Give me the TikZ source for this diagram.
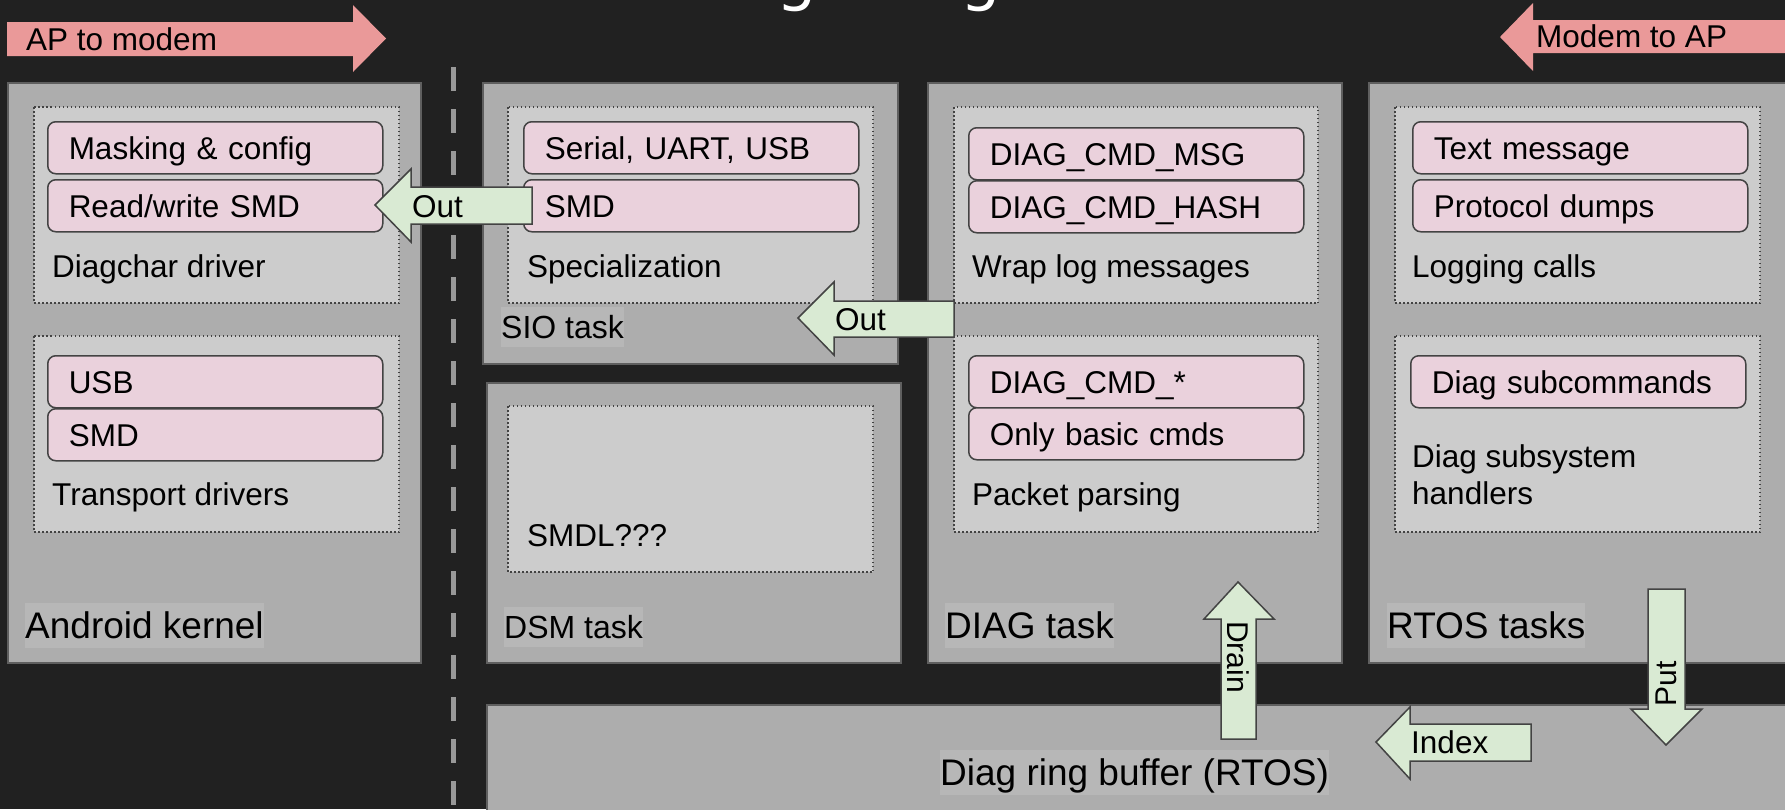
\documentclass[tikz,border=0pt]{standalone}
\usepackage{fontspec}
\setmainfont{Liberation Sans}
\newfontfamily\titlefont{DejaVu Sans}
\newcommand\fsmall{\fontsize{31.5}{37}\selectfont}
\newcommand\fmid{\fontsize{32}{38}\selectfont}
\newcommand\fbig{\fontsize{37}{44}\selectfont}
\definecolor{bgdark}{HTML}{212121}
\definecolor{taskgray}{HTML}{ADADAD}
\definecolor{taskedge}{HTML}{5F5F5F}
\definecolor{innergray}{HTML}{CCCCCC}
\definecolor{lblgray}{HTML}{B7B7B7}
\definecolor{pinkfill}{HTML}{EAD1DC}
\definecolor{edgegray}{HTML}{434343}
\definecolor{greenfill}{HTML}{D9EAD3}
\definecolor{salmon}{HTML}{EA9999}
\definecolor{divider}{HTML}{999999}
\tikzset{
  taskbox/.style={fill=taskgray, draw=taskedge, line width=1.5pt},
  dotbox/.style={fill=innergray, draw=edgegray, line width=1.5pt, dash pattern=on 1.5pt off 2.5pt},
  pinkbox/.style={fill=pinkfill, draw=edgegray, line width=1.5pt, rounded corners=8pt,
    anchor=north west, minimum height=#1, text width=293pt, align=left,
    inner xsep=21pt, inner ysep=0pt, text height=22.5pt, text depth=0pt, font=\fsmall},
  pinkbox/.default=52pt,
  boxlabel/.style={anchor=base west, inner sep=0pt, font=\fsmall},
  tasklabel/.style={anchor=base west, fill=lblgray, inner xsep=0pt, inner ysep=2pt,
    text height=33.5pt, text depth=7.8pt, font=\fbig},
  smalltask/.style={tasklabel, text height=29pt, text depth=6.8pt, font=\fmid},
  greenarrow/.style={fill=greenfill, draw=edgegray, line width=1.5pt, line join=miter},
  salmonarrow/.style={fill=salmon},
  arrowtext/.style={anchor=base west, inner sep=0pt, font=\fsmall},
  titletext/.style={anchor=base, inner sep=0pt, text=white, font=\titlefont\fontsize{64}{70}\selectfont}
}
\begin{document}
\begin{tikzpicture}[x=1pt, y=-1pt]
\clip (0,0) rectangle (1785,809);
\fill[bgdark] (0,0) rectangle (1785,809);
% title, cut off at the top edge
\node[titletext] (tga) at (797,-2) {g};
\node[titletext] (tgb) at (981,-2) {g};
% direction arrows
\fill[salmonarrow] (7,22) -- (353,22) -- (353,5) -- (386,38.5) -- (353,72) -- (353,56) -- (7,56) -- cycle;
\node[arrowtext] (aptomodem) at (26,50) {AP to modem};
\fill[salmonarrow] (1785,20) -- (1533,20) -- (1533,3) -- (1500,37) -- (1533,71) -- (1533,53) -- (1785,53) -- cycle;
\node[arrowtext] (modemtoap) at (1536,47) {Modem to AP};
% AP / modem split
\draw[divider, line width=5pt, dash pattern=on 24pt off 18pt] (453.5,67) -- (453.5,815);
% Android kernel
\draw[taskbox] (8,83) rectangle (421,663);
\draw[dotbox] (34,107) rectangle (399,303);
\node[pinkbox] (masking) at (47,121) {Masking \& config};
\node[pinkbox] (rwsmd) at (47,179) {Read/write SMD};
\node[boxlabel] (diagchar) at (52,277) {Diagchar driver};
\draw[dotbox] (34,336) rectangle (399,532);
\node[pinkbox] (kusb) at (47,355) {USB};
\node[pinkbox] (ksmd) at (47,408) {SMD};
\node[boxlabel] (transport) at (52,505) {Transport drivers};
\node[tasklabel] (android) at (25,638) {Android kernel};
% SIO task
\draw[taskbox] (483,83) rectangle (898,364);
\draw[dotbox] (508,107) rectangle (873,303);
\node[pinkbox] (serial) at (523,121) {Serial, UART, USB};
\node[pinkbox] (siosmd) at (523,179) {SMD};
\node[boxlabel] (special) at (527,277) {Specialization};
\node[smalltask] (sio) at (501,338) {SIO task};
% DSM task
\draw[taskbox] (487,383) rectangle (901,663);
\draw[dotbox] (508,406) rectangle (873,572);
\node[boxlabel] (smdl) at (527,546) {SMDL???};
\node[smalltask] (dsm) at (504,638) {DSM task};
% DIAG task
\draw[taskbox] (928,83) rectangle (1342,663);
\draw[dotbox] (954,107) rectangle (1318,303);
\node[pinkbox] (cmdmsg) at (968,127) {DIAG\_CMD\_MSG};
\node[pinkbox] (cmdhash) at (968,180) {DIAG\_CMD\_HASH};
\node[boxlabel] (wrap) at (972,277) {Wrap log messages};
\draw[dotbox] (954,336) rectangle (1318,532);
\node[pinkbox] (cmdany) at (968,355) {DIAG\_CMD\_*};
\node[pinkbox] (basic) at (968,407) {Only basic cmds};
\node[boxlabel] (parsing) at (972,505) {Packet parsing};
\node[tasklabel] (diag) at (945,638) {DIAG task};
% RTOS tasks
\draw[taskbox] (1369,83) rectangle (1790,663);
\draw[dotbox] (1395,107) rectangle (1760,303);
\node[pinkbox] (textmsg) at (1412,121) {Text message};
\node[pinkbox] (protodump) at (1412,179) {Protocol dumps};
\node[boxlabel] (logging) at (1412,277) {Logging calls};
\draw[dotbox] (1395,336) rectangle (1760,532);
\node[pinkbox] (subcmd) at (1410,355) {Diag subcommands};
\node[boxlabel, anchor=north west, align=left] (handlers) at (1412,444) {Diag subsystem\\handlers};
\node[tasklabel] (rtos) at (1387,638) {RTOS tasks};
% ring buffer
\draw[taskbox] (487,705) rectangle (1790,815);
\node[tasklabel] (ring) at (940,785) {Diag ring buffer (RTOS)};
% data flow arrows
\draw[greenarrow] (375,205) -- (411,169) -- (411,187) -- (532,187) -- (532,224) -- (411,224) -- (411,242) -- cycle;
\node[arrowtext] (outa) at (412,217) {Out};
\draw[greenarrow] (798,318) -- (834,282) -- (834,301) -- (954,301) -- (954,337) -- (834,337) -- (834,355) -- cycle;
\node[arrowtext] (outb) at (835,330) {Out};
\draw[greenarrow] (1238,582) -- (1274,619) -- (1256,619) -- (1256,739) -- (1221,739) -- (1221,619) -- (1204,619) -- cycle;
\node[font=\fontsize{30}{36}\selectfont, inner sep=0pt, rotate=-90] (drain) at (1238,657) {Drain};
\draw[greenarrow] (1648,589) -- (1685,589) -- (1685,709) -- (1702,709) -- (1666,745) -- (1631,709) -- (1648,709) -- cycle;
\node[font=\fontsize{30}{36}\selectfont, inner sep=0pt, rotate=90] (put) at (1666,684) {Put};
\draw[greenarrow] (1376,742) -- (1410,707) -- (1410,724) -- (1531,724) -- (1531,761) -- (1410,761) -- (1410,779) -- cycle;
\node[arrowtext] (index) at (1411,753) {Index};
\end{tikzpicture}
\end{document}
